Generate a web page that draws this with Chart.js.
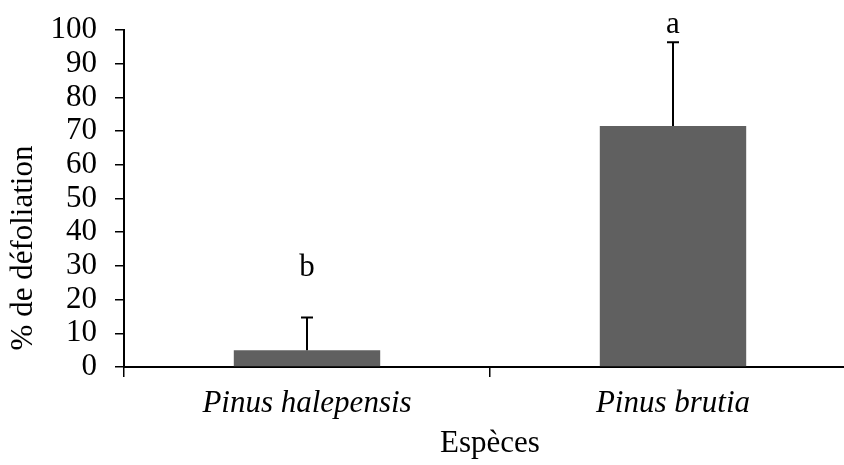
<!DOCTYPE html>
<html>
<head>
<meta charset="utf-8">
<script src="https://cdn.jsdelivr.net/npm/chart.js@4"></script>
<style>
    html, body { margin: 0; padding: 0; background: #fff; overflow: hidden; }
    #wrap { width: 844px; height: 465px; overflow: hidden; }
</style>
</head>
<body>
<div id="wrap"><canvas id="chart" width="880" height="465"></canvas></div>
<script>
// Défoliation par espèce (moyenne + écart-type, lettres = groupes)
const species = ['Pinus halepensis', 'Pinus brutia'];
const defoliation = [5.0, 71.5];
const errorPlus = [9.7, 24.9];
const groupLetters = ['b', 'a'];
const letterLevels = [27, 99];
const yTicks = [0, 10, 20, 30, 40, 50, 60, 70, 80, 90, 100];

const FONT = '"Liberation Serif", "Times New Roman", serif';
const SIZE = 31;

// Error bars (upper only) and significance letters
const errorBarPlugin = {
    id: 'errorBars',
    afterDatasetsDraw(chart) {
        const ctx = chart.ctx;
        const y = chart.scales.y;
        const meta = chart.getDatasetMeta(0);
        ctx.save();
        ctx.strokeStyle = '#000';
        ctx.lineWidth = 2;
        meta.data.forEach((bar, i) => {
            const base = y.getPixelForValue(defoliation[i]);
            const top = y.getPixelForValue(defoliation[i] + errorPlus[i]);
            ctx.beginPath();
            ctx.moveTo(bar.x, base);
            ctx.lineTo(bar.x, top);
            ctx.moveTo(bar.x - 6, top);
            ctx.lineTo(bar.x + 6, top);
            ctx.stroke();

            ctx.fillStyle = '#000';
            ctx.font = SIZE + 'px ' + FONT;
            ctx.textAlign = 'center';
            ctx.textBaseline = 'alphabetic';
            ctx.fillText(groupLetters[i], bar.x, y.getPixelForValue(letterLevels[i]));
        });

        // y axis title, placed lower than chart area centre as in the figure
        ctx.translate(24, 248);
        ctx.rotate(-Math.PI / 2);
        ctx.font = SIZE + 'px ' + FONT;
        ctx.textAlign = 'center';
        ctx.textBaseline = 'middle';
        ctx.fillText('% de défoliation', 0, 0);
        ctx.restore();
    }
};

new Chart(document.getElementById('chart'), {
    type: 'bar',
    data: {
        labels: species,
        datasets: [{
            data: defoliation,
            backgroundColor: '#606060',
            borderWidth: 0,
            barPercentage: 0.4,
            categoryPercentage: 1.0
        }]
    },
    options: {
        responsive: false,
        animation: false,
        layout: {
            padding: { left: 0, right: 24, top: 30, bottom: 0 }
        },
        plugins: {
            legend: { display: false },
            tooltip: { enabled: false }
        },
        scales: {
            x: {
                offset: true,
                grid: {
                    offset: true,
                    drawOnChartArea: false,
                    drawTicks: true,
                    tickLength: 10,
                    color: '#000',
                    lineWidth: 1.5
                },
                border: { display: true, color: '#000', width: 2 },
                ticks: {
                    color: '#000',
                    padding: 8,
                    maxRotation: 0,
                    font: { family: FONT, size: SIZE, style: 'italic' }
                },
                title: {
                    display: true,
                    text: 'Espèces',
                    color: '#000',
                    padding: { top: 0, bottom: 3 },
                    font: { family: FONT, size: SIZE }
                },
                afterFit(scale) { scale.height = 98; }
            },
            y: {
                min: 0,
                max: 100,
                afterBuildTicks(scale) {
                    scale.ticks = yTicks.map(v => ({ value: v }));
                },
                grid: {
                    drawOnChartArea: false,
                    drawTicks: true,
                    tickLength: 9,
                    color: '#000',
                    lineWidth: 1.5
                },
                border: { display: true, color: '#000', width: 2 },
                ticks: {
                    color: '#000',
                    padding: 18,
                    autoSkip: false,
                    font: { family: FONT, size: SIZE }
                },
                afterFit(scale) {
                    scale.width = 124;
                    scale.paddingTop = 0;
                    scale.paddingBottom = 0;
                }
            }
        }
    },
    plugins: [errorBarPlugin]
});
</script>
</body>
</html>
